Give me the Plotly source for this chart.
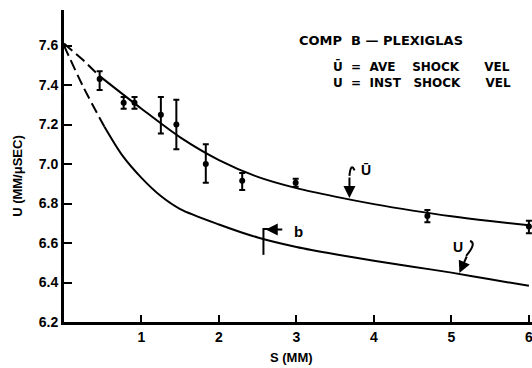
import plotly.graph_objects as go

# Measured average shock velocity with error bars
s_meas = [0.46, 0.77, 0.91, 1.25, 1.45, 1.83, 2.30, 2.99, 4.69, 6.0]
u_meas = [7.43, 7.31, 7.31, 7.25, 7.20, 7.00, 6.915, 6.905, 6.737, 6.683]
err_plus = [0.04, 0.03, 0.03, 0.09, 0.125, 0.10, 0.04, 0.02, 0.03, 0.03]
err_minus = [0.055, 0.03, 0.03, 0.095, 0.125, 0.095, 0.047, 0.02, 0.032, 0.033]

# Fitted average velocity curve (U bar): extrapolated part, then fitted part
ubar_s_dash = [0.0, 0.25, 0.46]
ubar_u_dash = [7.61, 7.525, 7.445]
ubar_s = [0.46, 1.0, 1.5, 2.0, 2.5, 3.0, 3.5, 4.0, 4.5, 5.0, 5.5, 6.0]
ubar_u = [7.445, 7.28, 7.135, 7.02, 6.935, 6.878, 6.835, 6.797, 6.764, 6.735, 6.711, 6.69]

# Instantaneous shock velocity curve (U)
u_s_dash = [0.0, 0.25, 0.52]
u_u_dash = [7.60, 7.39, 7.19]
u_s = [0.52, 0.75, 1.0, 1.25, 1.5, 2.0, 2.5, 3.0, 3.5, 4.0, 4.5, 5.0, 5.5, 6.0]
u_u = [7.19, 7.045, 6.93, 6.838, 6.772, 6.694, 6.628, 6.58, 6.543, 6.51, 6.48, 6.45, 6.416, 6.383]

x_ticks = [1, 2, 3, 4, 5, 6]
y_ticks = [6.2, 6.4, 6.6, 6.8, 7.0, 7.2, 7.4, 7.6]

# Position of point b on the U curve
b_s = 2.574
b_lo, b_hi = 6.54, 6.676

ink = "black"
font_family = "Liberation Sans, Arial, sans-serif"
label_family = "DejaVu Sans, sans-serif"
sp = "\u00a0"

title_text = f"<b>COMP{sp*2}B{sp}—{sp}PLEXIGLAS</b>"
key_text = (f"<b>Ū{sp*2}={sp*2}AVE{sp*4}SHOCK{sp*6}VEL</b><br>"
            f"<b>U{sp*2}={sp*2}INST{sp*3}SHOCK{sp*6}VEL</b>")

fig = go.Figure()

line_w = 2
fig.add_trace(go.Scatter(x=ubar_s_dash, y=ubar_u_dash, mode="lines",
                         line=dict(color=ink, width=line_w, dash="11px,5px")))
fig.add_trace(go.Scatter(x=ubar_s, y=ubar_u, mode="lines",
                         line=dict(color=ink, width=line_w, shape="spline", smoothing=0.8)))
fig.add_trace(go.Scatter(x=u_s_dash, y=u_u_dash, mode="lines",
                         line=dict(color=ink, width=line_w, dash="11px,5px", shape="spline")))
fig.add_trace(go.Scatter(x=u_s, y=u_u, mode="lines",
                         line=dict(color=ink, width=line_w, shape="spline", smoothing=0.8)))
fig.add_trace(go.Scatter(
    x=s_meas, y=u_meas, mode="markers",
    marker=dict(color=ink, size=6),
    error_y=dict(type="data", symmetric=False, array=err_plus, arrayminus=err_minus,
                 color=ink, thickness=2, width=3),
))

# Marker for point b
fig.add_trace(go.Scatter(x=[b_s, b_s], y=[b_lo, b_hi], mode="lines",
                         line=dict(color=ink, width=2)))
fig.add_shape(type="line", x0=b_s, x1=b_s + 0.08, y0=b_hi - 0.005, y1=b_hi - 0.005,
              line=dict(color=ink, width=2))

annotations = [
    dict(x=b_s + 0.03, y=b_hi - 0.008, ax=18, ay=0, text="", showarrow=True,
         arrowhead=2, arrowsize=1.2, arrowwidth=2, arrowcolor=ink),
    dict(x=3.03, y=6.66, text="<b>b</b>", showarrow=False,
         font=dict(size=15, color=ink, family=font_family)),
    # Curve labels
    dict(x=3.684, y=6.828, ax=0, ay=-22, text="", showarrow=True,
         arrowhead=2, arrowsize=1.2, arrowwidth=2, arrowcolor=ink),
    dict(x=3.9, y=6.972, text="<b>Ū</b>", showarrow=False,
         font=dict(size=14, color=ink, family=font_family)),
    dict(x=5.103, y=6.448, ax=8, ay=-18, text="", showarrow=True,
         arrowhead=2, arrowsize=1.2, arrowwidth=2, arrowcolor=ink),
    dict(x=5.08, y=6.58, text="<b>U</b>", showarrow=False,
         font=dict(size=14, color=ink, family=font_family)),
    # Legend block
    dict(x=3.01, y=7.625, xanchor="left", text=title_text, showarrow=False,
         font=dict(size=13, color=ink, family=label_family)),
    dict(x=3.44, y=7.455, xanchor="left", align="left", text=key_text, showarrow=False,
         font=dict(size=12, color=ink, family=label_family)),
    # Axis titles
    dict(x=2.93, y=0, yref="paper", yanchor="middle", yshift=-35, text="<b>S (MM)</b>",
         showarrow=False, font=dict(size=13, color=ink, family=font_family)),
    dict(x=0, xref="paper", xanchor="center", xshift=-46, y=6.94, text="<b>U (MM/μSEC)</b>",
         textangle=-90, showarrow=False, font=dict(size=13, color=ink, family=font_family)),
]

# Curled arrow tails
fig.add_shape(type="path", path="M 3.75,6.968 Q 3.70,7.01 3.684,6.94",
              line=dict(color=ink, width=2))
fig.add_shape(type="path", path="M 5.24,6.61 Q 5.33,6.60 5.19,6.535",
              line=dict(color=ink, width=2))

fig.update_layout(
    width=532, height=368,
    margin=dict(l=64, r=0, t=10, b=46),
    paper_bgcolor="white", plot_bgcolor="white",
    showlegend=False,
    annotations=annotations,
    font=dict(family=font_family, color=ink),
    xaxis=dict(range=[0, 6.04], tickvals=x_ticks, ticktext=[str(v) for v in x_ticks],
               ticks="inside", ticklen=7, tickwidth=2, tickcolor=ink, ticklabeloverflow="allow",
               showline=True, linewidth=3, linecolor=ink, showgrid=False, zeroline=False,
               tickfont=dict(size=14, color=ink, family=font_family, weight="bold")),
    yaxis=dict(range=[6.2, 7.78], tickvals=y_ticks, ticktext=[f"{v:.1f}" for v in y_ticks],
               ticks="inside", ticklen=8, tickwidth=2, tickcolor=ink,
               showline=True, linewidth=3, linecolor=ink, showgrid=False, zeroline=False,
               tickfont=dict(size=14, color=ink, family=font_family, weight="bold")),
)

fig.write_html("out.html")
